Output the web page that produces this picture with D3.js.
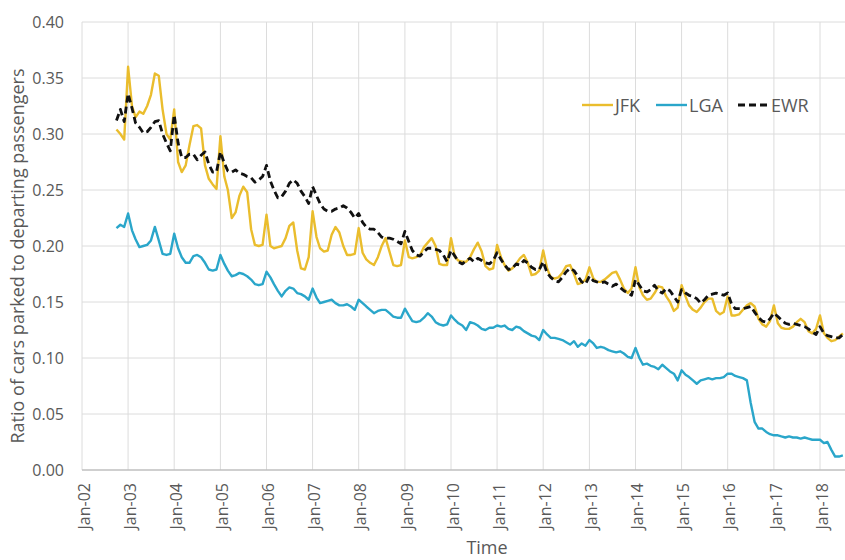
<!DOCTYPE html>
<html><head><meta charset="utf-8">
<script src="https://cdn.jsdelivr.net/npm/d3@7"></script>
<style>
html,body{margin:0;padding:0;background:#fff;}
svg{display:block;font-family:"Open Sans",sans-serif;}
</style></head>
<body><svg id="chart" width="845" height="560"></svg>
<script>
// Monthly series, first month Oct-2002, last month Jul-2018
const startMonth = [2002, 9];
const seriesNames = ["JFK", "LGA", "EWR"];
const jfk = [
  0.304, 0.300, 0.295,
  0.360, 0.325, 0.315, 0.320, 0.318, 0.325, 0.335, 0.354, 0.352, 0.322, 0.300, 0.295,
  0.322, 0.275, 0.266, 0.272, 0.290, 0.307, 0.308, 0.305, 0.272, 0.260, 0.255, 0.251,
  0.298, 0.262, 0.250, 0.225, 0.230, 0.245, 0.253, 0.248, 0.215, 0.201, 0.200, 0.201,
  0.228, 0.200, 0.198, 0.199, 0.200, 0.207, 0.218, 0.221, 0.196, 0.180, 0.179, 0.190,
  0.231, 0.208, 0.198, 0.195, 0.196, 0.210, 0.217, 0.212, 0.200, 0.192, 0.192, 0.193,
  0.216, 0.194, 0.188, 0.185, 0.183, 0.190, 0.200, 0.207, 0.195, 0.183, 0.182, 0.183,
  0.205, 0.190, 0.189, 0.190, 0.192, 0.199, 0.203, 0.207, 0.200, 0.184, 0.183, 0.183,
  0.207, 0.190, 0.187, 0.186, 0.186, 0.190, 0.197, 0.203, 0.195, 0.182, 0.179, 0.180,
  0.201, 0.190, 0.183, 0.178, 0.180, 0.184, 0.189, 0.192, 0.185, 0.174, 0.175, 0.178,
  0.196, 0.180, 0.172, 0.171, 0.172, 0.176, 0.182, 0.183, 0.175, 0.166, 0.167, 0.170,
  0.181, 0.171, 0.168, 0.168, 0.170, 0.173, 0.176, 0.177, 0.170, 0.162, 0.158, 0.162,
  0.181, 0.163, 0.156, 0.152, 0.153, 0.158, 0.164, 0.163, 0.155, 0.150, 0.142, 0.145,
  0.165, 0.155, 0.147, 0.143, 0.141, 0.145, 0.150, 0.153, 0.153, 0.142, 0.139, 0.141,
  0.155, 0.138, 0.138, 0.139, 0.143, 0.147, 0.149, 0.146, 0.135, 0.130, 0.128, 0.133,
  0.147, 0.131, 0.127, 0.126, 0.126, 0.128, 0.132, 0.135, 0.132, 0.124, 0.122, 0.126,
  0.138, 0.122, 0.118, 0.115, 0.116, 0.119, 0.122
];
const lga = [
  0.216, 0.219, 0.217,
  0.229, 0.214, 0.206, 0.199, 0.200, 0.201, 0.205, 0.217, 0.205, 0.193, 0.192, 0.193,
  0.211, 0.198, 0.190, 0.185, 0.185, 0.191, 0.192, 0.190, 0.185, 0.179, 0.178, 0.179,
  0.192, 0.184, 0.178, 0.173, 0.174, 0.176, 0.175, 0.173, 0.170, 0.166, 0.165, 0.166,
  0.177, 0.172, 0.166, 0.160, 0.155, 0.160, 0.163, 0.162, 0.158, 0.157, 0.155, 0.152,
  0.162, 0.154, 0.149, 0.150, 0.151, 0.152, 0.149, 0.147, 0.147, 0.148, 0.146, 0.143,
  0.152, 0.149, 0.146, 0.143, 0.140, 0.142, 0.143, 0.143, 0.140, 0.137, 0.136, 0.136,
  0.144, 0.138, 0.133, 0.132, 0.133, 0.136, 0.140, 0.137, 0.132, 0.130, 0.129, 0.130,
  0.138, 0.134, 0.131, 0.129, 0.125, 0.132, 0.131, 0.129, 0.126, 0.125, 0.127, 0.127,
  0.129, 0.128, 0.129, 0.126, 0.125, 0.128, 0.127, 0.124, 0.122, 0.120, 0.119, 0.116,
  0.125, 0.121, 0.118, 0.118, 0.117, 0.116, 0.114, 0.112, 0.115, 0.110, 0.113, 0.111,
  0.116, 0.113, 0.109, 0.110, 0.109, 0.107, 0.106, 0.105, 0.106, 0.104, 0.101, 0.100,
  0.109, 0.100, 0.094, 0.095, 0.093, 0.092, 0.090, 0.094, 0.091, 0.088, 0.086, 0.080,
  0.089, 0.085, 0.083, 0.080, 0.077, 0.080, 0.081, 0.082, 0.081, 0.082, 0.082, 0.083,
  0.086, 0.086, 0.084, 0.083, 0.082, 0.080, 0.060, 0.043, 0.037, 0.037, 0.034, 0.032,
  0.031, 0.031, 0.030, 0.029, 0.030, 0.029, 0.029, 0.028, 0.029, 0.028, 0.027, 0.027,
  0.027, 0.024, 0.025, 0.018, 0.012, 0.012, 0.013
];
const ewr = [
  0.312, 0.322, 0.311,
  0.336, 0.323, 0.310, 0.306, 0.301, 0.302, 0.306, 0.311, 0.312, 0.300, 0.292, 0.285,
  0.317, 0.292, 0.279, 0.279, 0.282, 0.282, 0.277, 0.281, 0.284, 0.273, 0.266, 0.266,
  0.284, 0.274, 0.267, 0.266, 0.268, 0.265, 0.264, 0.262, 0.261, 0.257, 0.259, 0.262,
  0.272, 0.258, 0.250, 0.243, 0.244, 0.249, 0.256, 0.259, 0.256, 0.249, 0.244, 0.238,
  0.253, 0.245, 0.238, 0.233, 0.231, 0.231, 0.233, 0.234, 0.236, 0.234, 0.230, 0.225,
  0.229, 0.221, 0.217, 0.215, 0.215, 0.212, 0.208, 0.207, 0.207, 0.206, 0.204, 0.202,
  0.213, 0.204, 0.196, 0.192, 0.191, 0.195, 0.198, 0.198, 0.197, 0.196, 0.192, 0.186,
  0.196, 0.191, 0.186, 0.184, 0.187, 0.189, 0.186, 0.189, 0.187, 0.185, 0.184, 0.187,
  0.194, 0.188, 0.183, 0.179, 0.180, 0.184, 0.183, 0.187, 0.185, 0.181, 0.179, 0.179,
  0.186, 0.176, 0.172, 0.169, 0.168, 0.172, 0.177, 0.180, 0.178, 0.173, 0.168, 0.166,
  0.173, 0.169, 0.168, 0.167, 0.168, 0.166, 0.164, 0.166, 0.163, 0.160, 0.158, 0.156,
  0.170, 0.165, 0.160, 0.159, 0.161, 0.165, 0.160, 0.158, 0.162, 0.160, 0.155, 0.150,
  0.161, 0.158, 0.156, 0.155, 0.153, 0.149, 0.152, 0.156, 0.157, 0.158, 0.157, 0.156,
  0.158, 0.148, 0.144, 0.144, 0.144, 0.145, 0.146, 0.141, 0.136, 0.133, 0.132, 0.135,
  0.140, 0.137, 0.134, 0.131, 0.130, 0.131, 0.130, 0.129, 0.128, 0.126, 0.123, 0.121,
  0.128, 0.122, 0.120, 0.119, 0.118, 0.118, 0.121
];
const yTicks = [0, 0.05, 0.10, 0.15, 0.20, 0.25, 0.30, 0.35, 0.40];
const xTickYears = d3.range(2002, 2019);
const yTitle = "Ratio of cars parked to departing passengers";
const xTitle = "Time";

const svg = d3.select("#chart");
const W = 845, H = 560;
const plotLeft = 82, plotTop = 22, plotBottom = 470;

const x = d3.scaleTime()
  .domain([new Date(2002, 0, 1), new Date(2018, 0, 1)])
  .range([plotLeft, 820]);
const y = d3.scaleLinear().domain([0, 0.4]).range([plotBottom, plotTop]);

const dates = jfk.map((_, i) => new Date(startMonth[0], startMonth[1] + i, 1));

svg.append("rect").attr("width", W).attr("height", H).attr("fill", "#fff");

const xTickDates = xTickYears.map(yr => new Date(yr, 0, 1));

// gridlines
const grid = svg.append("g");
grid.selectAll(".hg").data(yTicks.slice(1)).join("line")
  .attr("x1", plotLeft).attr("x2", W)
  .attr("y1", d => y(d)).attr("y2", d => y(d))
  .attr("stroke", "#dcdcdc").attr("stroke-width", 1);
grid.selectAll(".vg").data(xTickDates).join("line")
  .attr("x1", d => x(d)).attr("x2", d => x(d))
  .attr("y1", plotTop).attr("y2", plotBottom)
  .attr("stroke", "#dcdcdc").attr("stroke-width", 1);

// x axis line
svg.append("line").attr("x1", plotLeft).attr("x2", W)
  .attr("y1", plotBottom).attr("y2", plotBottom)
  .attr("stroke", "#bfbfbf").attr("stroke-width", 1.3);

// y tick labels
const yAxis = d3.axisLeft(y).tickValues(yTicks).tickFormat(d3.format(".2f")).tickSize(0).tickPadding(18);
const gy = svg.append("g").attr("transform", `translate(${plotLeft},0)`).call(yAxis);
gy.select(".domain").remove();
gy.selectAll("text").attr("font-family", "Open Sans").attr("font-size", 16).attr("fill", "#595959");

// x tick labels
const xAxis = d3.axisBottom(x).tickValues(xTickDates).tickFormat(d3.timeFormat("%b-%y")).tickSize(0);
const gx = svg.append("g").attr("transform", `translate(0,${plotBottom})`).call(xAxis);
gx.select(".domain").remove();
gx.selectAll("text")
  .attr("font-family", "Open Sans").attr("font-size", 16).attr("fill", "#595959")
  .attr("text-anchor", "end")
  .attr("transform", "rotate(-90)")
  .attr("x", -13).attr("y", 0).attr("dy", "0.45em");

// lines
const line = d3.line().x((d, i) => x(dates[i])).y(d => y(d));
svg.append("path").datum(jfk).attr("d", line)
  .attr("fill", "none").attr("stroke", "#EABD2D").attr("stroke-width", 2.4)
  .attr("stroke-linejoin", "round");
svg.append("path").datum(lga).attr("d", line)
  .attr("fill", "none").attr("stroke", "#2AA6CA").attr("stroke-width", 2.4)
  .attr("stroke-linejoin", "round");
svg.append("path").datum(ewr).attr("d", line)
  .attr("fill", "none").attr("stroke", "#111").attr("stroke-width", 2.8)
  .attr("stroke-dasharray", "7,4").attr("stroke-linejoin", "round");

// legend
const legendItems = [
  {name: seriesNames[0], color: "#EABD2D", dash: null, x1: 582},
  {name: seriesNames[1], color: "#2AA6CA", dash: null, x1: 656},
  {name: seriesNames[2], color: "#111", dash: "7,4", x1: 738}
];
const lg = svg.append("g");
legendItems.forEach(it => {
  lg.append("line").attr("x1", it.x1).attr("x2", it.x1 + 31).attr("y1", 105).attr("y2", 105)
    .attr("stroke", it.color).attr("stroke-width", it.dash ? 2.8 : 2.4)
    .attr("stroke-dasharray", it.dash);
  lg.append("text").attr("x", it.x1 + 33).attr("y", 111.5)
    .attr("font-family", "Open Sans").attr("font-size", 18).attr("fill", "#595959")
    .text(it.name);
});

// axis titles
svg.append("text").attr("transform", "translate(24,256) rotate(-90)")
  .attr("text-anchor", "middle").attr("font-family", "Open Sans").attr("font-size", 18)
  .attr("fill", "#595959").text(yTitle);
svg.append("text").attr("x", 487).attr("y", 554)
  .attr("text-anchor", "middle").attr("font-family", "Open Sans").attr("font-size", 18)
  .attr("fill", "#595959").text(xTitle);
</script></body></html>
